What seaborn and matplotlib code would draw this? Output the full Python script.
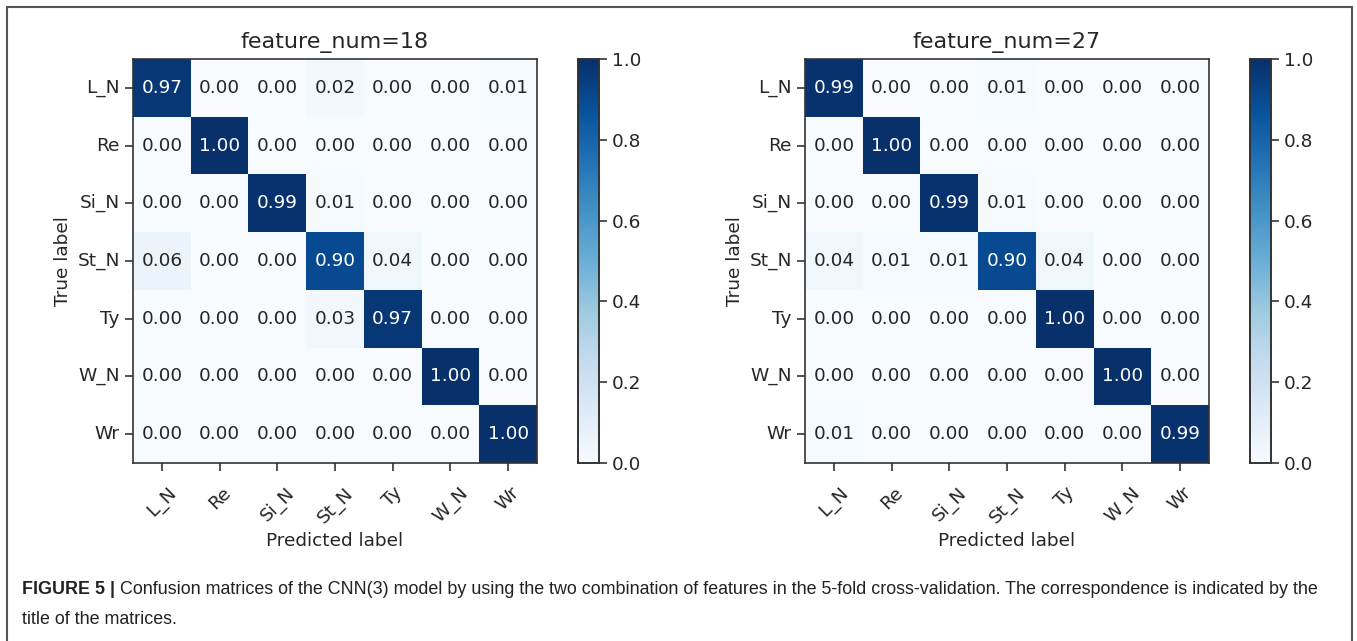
import numpy as np
import pandas as pd
import seaborn as sns
import matplotlib
matplotlib.use("Agg")
import matplotlib.pyplot as plt
from matplotlib.patches import Rectangle

labels = ["L_N", "Re", "Si_N", "St_N", "Ty", "W_N", "Wr"]

cm18 = [
    [0.97, 0.00, 0.00, 0.02, 0.00, 0.00, 0.01],
    [0.00, 1.00, 0.00, 0.00, 0.00, 0.00, 0.00],
    [0.00, 0.00, 0.99, 0.01, 0.00, 0.00, 0.00],
    [0.06, 0.00, 0.00, 0.90, 0.04, 0.00, 0.00],
    [0.00, 0.00, 0.00, 0.03, 0.97, 0.00, 0.00],
    [0.00, 0.00, 0.00, 0.00, 0.00, 1.00, 0.00],
    [0.00, 0.00, 0.00, 0.00, 0.00, 0.00, 1.00],
]
cm27 = [
    [0.99, 0.00, 0.00, 0.01, 0.00, 0.00, 0.00],
    [0.00, 1.00, 0.00, 0.00, 0.00, 0.00, 0.00],
    [0.00, 0.00, 0.99, 0.01, 0.00, 0.00, 0.00],
    [0.04, 0.01, 0.01, 0.90, 0.04, 0.00, 0.00],
    [0.00, 0.00, 0.00, 0.00, 1.00, 0.00, 0.00],
    [0.00, 0.00, 0.00, 0.00, 0.00, 1.00, 0.00],
    [0.01, 0.00, 0.00, 0.00, 0.00, 0.00, 0.99],
]
titles = ["feature_num=18", "feature_num=27"]
cbar_ticks = [0.0, 0.2, 0.4, 0.6, 0.8, 1.0]

caption_bold = "FIGURE 5 |"
caption_line1 = ("Confusion matrices of the CNN(3) model by using the two combination of "
                 "features in the 5-fold cross-validation. The correspondence is indicated by the")
caption_line2 = "title of the matrices."

sns.set_style("white")
plt.rcParams["font.family"] = ["DejaVu Sans"]

W, H = 1357, 641
fig = plt.figure(figsize=(W / 100, H / 100), dpi=100)

def fx(px):
    return px / W

def fy(py):
    return 1 - py / H

ax_top, ax_bot = 59, 463
layouts = [(133, 537, 578, 599), (805, 1209, 1250, 1271)]

for mat, title, (x0, x1, c0, c1) in zip([cm18, cm27], titles, layouts):
    ax = fig.add_axes([fx(x0), fy(ax_bot), fx(x1 - x0), (ax_bot - ax_top) / H])
    cax = fig.add_axes([fx(c0), fy(ax_bot), fx(c1 - c0), (ax_bot - ax_top) / H])
    df = pd.DataFrame(mat, index=labels, columns=labels)
    sns.heatmap(df, ax=ax, cbar_ax=cax, cmap="Blues", vmin=0, vmax=1,
                annot=True, fmt=".2f", annot_kws={"size": 13.3},
                cbar_kws={"ticks": cbar_ticks})
    ax.set_title(title, fontsize=16, pad=8)
    ax.set_xlabel("Predicted label", fontsize=13.3, labelpad=4)
    ax.set_ylabel("True label", fontsize=13.3)
    ax.set_xticklabels(labels, rotation=45, ha="center", fontsize=13.3)
    ax.set_yticklabels(labels, rotation=0, fontsize=13.3)
    ax.tick_params(axis="both", which="both", length=6, width=1.2, color="#333333",
                   bottom=True, left=True)
    ax.tick_params(axis="x", pad=9)
    for s in ax.spines.values():
        s.set_visible(True)
        s.set_color("#333333")
        s.set_linewidth(1.2)
    cax.tick_params(labelsize=13.3, length=6, width=1.2, color="#333333", right=True)
    cax.yaxis.set_major_formatter(matplotlib.ticker.FormatStrFormatter("%.1f"))
    for s in cax.spines.values():
        s.set_visible(True)
        s.set_color("#333333")
        s.set_linewidth(1.2)
    cb = ax.collections[0].colorbar
    cb.outline.set_visible(True)
    cb.outline.set_edgecolor("#333333")
    cb.outline.set_linewidth(1.2)

# frame
fig.patches.append(Rectangle((fx(7), -0.05), fx(1345), fy(7) + 0.05, transform=fig.transFigure,
                             fill=False, edgecolor="#555555", linewidth=1.5))

cap_family = ["Liberation Sans", "DejaVu Sans"]
cap_size = 12.9
tb = fig.text(fx(22), fy(590), caption_bold, fontsize=cap_size, fontweight="bold",
              family=cap_family, va="center", ha="left", color="#222222")
fig.canvas.draw()
r = fig.canvas.get_renderer()
bb = tb.get_window_extent(renderer=r)
fig.text((bb.x1 + 5) / W, fy(590), caption_line1, fontsize=cap_size, family=cap_family,
         va="center", ha="left", color="#222222")
fig.text(fx(22), fy(620), caption_line2, fontsize=cap_size, family=cap_family,
         va="center", ha="left", color="#222222")

fig.savefig("out.png", dpi=100)
